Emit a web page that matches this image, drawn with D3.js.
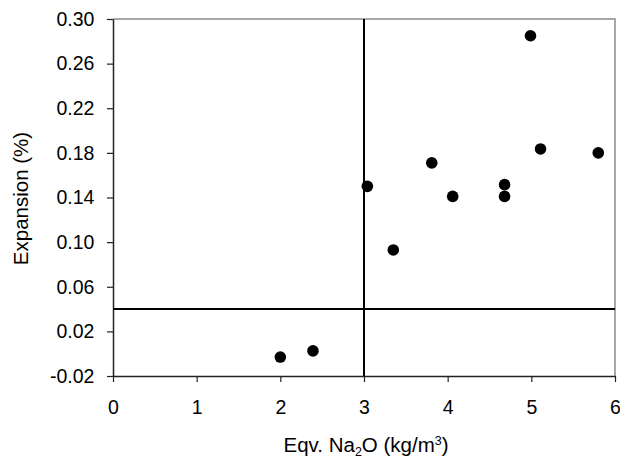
<!DOCTYPE html>
<html>
<head>
<meta charset="utf-8">
<script src="https://cdn.jsdelivr.net/npm/d3@7"></script>
<style>
  body { margin: 0; background: #fff; }
  text { font-family: "Liberation Sans", Arial, sans-serif; fill: #000; }
</style>
</head>
<body>
<div id="chart"></div>
<script>
// Eqv. Na2O vs expansion
var naO = [2.0, 2.39, 3.04, 3.35, 3.81, 4.06, 4.68, 4.68, 4.99, 5.11, 5.80];
var expansion = [-0.003, 0.0025, 0.150, 0.093, 0.171, 0.141, 0.1515, 0.141, 0.285, 0.1835, 0.180];
var xTicks = [0, 1, 2, 3, 4, 5, 6];
var yTicks = [-0.02, 0.02, 0.06, 0.10, 0.14, 0.18, 0.22, 0.26, 0.30];
var limitX = 3;
var limitY = 0.04;

var W = 620, H = 459;
var margin = {top: 19, right: 5, bottom: 83, left: 113};
var width = W - margin.left - margin.right,
    height = H - margin.top - margin.bottom;

var svg = d3.select("#chart").append("svg")
    .attr("width", W)
    .attr("height", H);

var g = svg.append("g")
    .attr("transform", "translate(" + margin.left + "," + margin.top + ")");

var x = d3.scaleLinear().domain([0, 6]).range([0, width]);
var y = d3.scaleLinear().domain([-0.02, 0.30]).range([height, 0]);

// gray top/right frame
g.append("path")
    .attr("d", "M0,0H" + width + "V" + height)
    .attr("fill", "none")
    .attr("stroke", "#8c8c8c")
    .attr("stroke-width", 1.5);

var fmt2 = d3.format(".2f");
var xAxis = d3.axisBottom(x).tickValues(xTicks).tickSize(6).tickSizeOuter(0)
    .tickFormat(d3.format("d"));
var yAxis = d3.axisLeft(y).tickValues(yTicks).tickSize(6).tickSizeOuter(0)
    .tickFormat(function (d) { return fmt2(d).replace("\u2212", "-"); });

var gx = g.append("g")
    .attr("transform", "translate(0," + height + ")")
    .call(xAxis);
gx.selectAll("text").attr("dy", "1.49em").style("font-size", "19.5px");

var gy = g.append("g").call(yAxis);
gy.selectAll("text").attr("dx", "-0.49em").style("font-size", "19.5px");

[gx, gy].forEach(function (a) {
    a.select(".domain").attr("stroke", "#222").attr("stroke-width", 1.5);
    a.selectAll(".tick line").attr("stroke", "#222").attr("stroke-width", 1.2);
});

// threshold lines
g.append("line")
    .attr("x1", x(limitX)).attr("x2", x(limitX))
    .attr("y1", 0).attr("y2", height)
    .attr("stroke", "#000").attr("stroke-width", 2);
g.append("line")
    .attr("x1", 0).attr("x2", width)
    .attr("y1", y(limitY)).attr("y2", y(limitY))
    .attr("stroke", "#000").attr("stroke-width", 2);

g.selectAll(".dot")
    .data(naO)
    .enter().append("circle")
    .attr("class", "dot")
    .attr("cx", function (d) { return x(d); })
    .attr("cy", function (d, i) { return y(expansion[i]); })
    .attr("r", 5.8)
    .attr("fill", "#000");

// axis titles
var xt = svg.append("text")
    .attr("x", 366)
    .attr("y", 451.5)
    .attr("text-anchor", "middle")
    .style("font-size", "20.5px");
xt.append("tspan").text("Eqv. Na");
xt.append("tspan").attr("dy", 4).style("font-size", "12.5px").text("2");
xt.append("tspan").attr("dy", -4).text("O (kg/m");
xt.append("tspan").attr("dy", -7).style("font-size", "12.5px").text("3");
xt.append("tspan").attr("dy", 7).text(")");

svg.append("text")
    .attr("transform", "translate(28," + (margin.top + height / 2 + 1) + ") rotate(-90)")
    .attr("text-anchor", "middle")
    .style("font-size", "20.5px")
    .text("Expansion (%)");
</script>
</body>
</html>
